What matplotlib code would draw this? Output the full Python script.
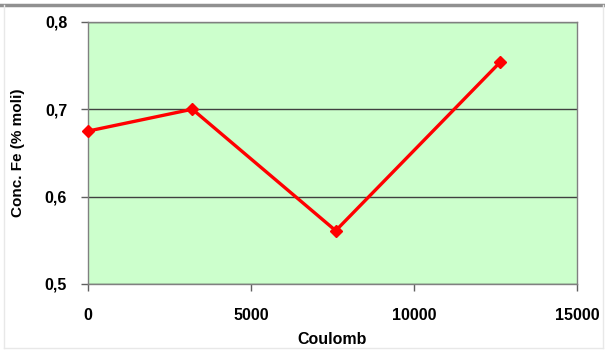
import matplotlib.pyplot as plt
from matplotlib.lines import Line2D
from matplotlib.ticker import FuncFormatter

coulomb = [0, 3200, 7600, 12650]
conc_fe = [0.675, 0.700, 0.561, 0.754]

xticks = [0, 5000, 10000, 15000]
yticks = [0.5, 0.6, 0.7, 0.8]

plt.rcParams['font.family'] = ['Liberation Sans', 'DejaVu Sans']
plt.rcParams['font.weight'] = 'bold'

fig = plt.figure(figsize=(6.05, 3.5), dpi=100)
ax = fig.add_axes([0.1455, 0.1886, 0.808, 0.749])
ax.set_facecolor('#ccffcc')

ax.plot(coulomb, conc_fe, color='#ff0000', lw=2.4, marker='D', markersize=6,
        markeredgecolor='#ff0000', zorder=3, clip_on=False)

ax.set_xlim(0, 15000)
ax.set_ylim(0.5, 0.8)
ax.set_xticks(xticks)
ax.set_yticks(yticks)
ax.yaxis.set_major_formatter(FuncFormatter(lambda v, p: ('%.1f' % v).replace('.', ',')))
ax.grid(axis='y', color='#404040', lw=1.0)
ax.set_axisbelow(True)

for s in ax.spines.values():
    s.set_color('#808080')
    s.set_linewidth(1.0)
ax.tick_params(direction='out', length=5, width=1, color='#606060',
               labelsize=11.5)
ax.tick_params(axis='x', pad=12)
ax.tick_params(axis='y', pad=10)
for lab in ax.get_xticklabels() + ax.get_yticklabels():
    lab.set_fontweight('bold')

ax.set_xlabel('Coulomb', fontsize=11.5, fontweight='bold', labelpad=7)
ax.set_ylabel('Conc. Fe (% moli)', fontsize=11, fontweight='bold', labelpad=14)

# outer frame of the chart
fig.add_artist(Line2D([0, 1], [0.986, 0.986], transform=fig.transFigure,
                      color='#909090', lw=2.5))
fig.add_artist(Line2D([0.006, 0.006], [0.006, 0.986], transform=fig.transFigure,
                      color='#e8e8e8', lw=1))
fig.add_artist(Line2D([0.996, 0.996], [0.006, 0.986], transform=fig.transFigure,
                      color='#e8e8e8', lw=1))
fig.add_artist(Line2D([0.006, 0.996], [0.006, 0.006], transform=fig.transFigure,
                      color='#e8e8e8', lw=1))

fig.savefig('out.png', dpi=100)
